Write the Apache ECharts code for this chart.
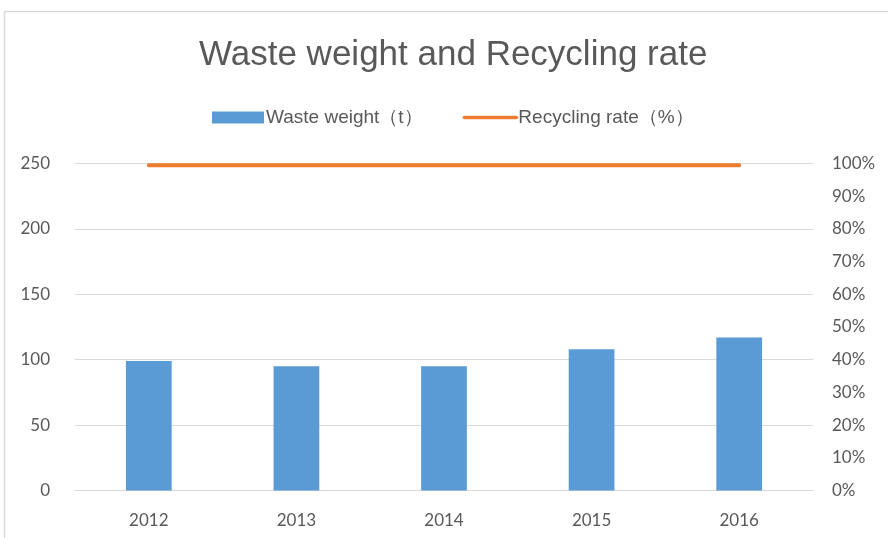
<!DOCTYPE html>
<html>
<head>
<meta charset="utf-8">
<script src="https://cdn.jsdelivr.net/npm/echarts@6/dist/echarts.min.js"></script>
<style>
  html, body { margin: 0; padding: 0; background: #fff; }
  #chart { width: 888px; height: 538px; }
</style>
</head>
<body>
<div id="chart"></div>
<script>
// data
const years = ['2012', '2013', '2014', '2015', '2016'];
const wasteWeight = [99, 95, 95, 108, 117];
const recyclingRate = [99.5, 99.5, 99.5, 99.5, 99.5];

const chart = echarts.init(document.getElementById('chart'));
const labelFont = 'Lato, "Noto Sans", sans-serif';

chart.setOption({
  backgroundColor: '#fff',
  animation: false,
  graphic: [{
    type: 'rect',
    shape: { x: 4.5, y: 11.5, width: 900, height: 600 },
    style: { fill: 'none', stroke: '#d9d9d9', lineWidth: 1.5 },
    silent: true
  }],
  title: {
    text: 'Waste weight and Recycling rate',
    left: 194,
    top: 33,
    textStyle: { fontFamily: '"Liberation Sans", Arial, sans-serif', fontSize: 35, fontWeight: 'normal', color: '#595959' }
  },
  legend: {
    top: 103,
    left: 207,
    itemGap: 40,
    itemWidth: 52,
    itemHeight: 12,
    textStyle: { fontFamily: '"Liberation Sans", Arial, sans-serif', fontSize: 19, color: '#595959', padding: [0, 0, 0, -3] },
    data: [
      { name: 'Waste weight（t）', icon: 'rect' },
      { name: 'Recycling rate（%）', itemStyle: { opacity: 0 }, lineStyle: { width: 3.5 } }
    ]
  },
  grid: { left: 75, right: 75, top: 163.5, bottom: 47.5 },
  xAxis: {
    type: 'category',
    data: years,
    axisLine: { lineStyle: { color: '#d9d9d9', width: 1 } },
    axisTick: { show: false },
    axisLabel: { color: '#595959', fontSize: 17, fontFamily: labelFont, margin: 22 }
  },
  yAxis: [
    {
      type: 'value',
      min: 0, max: 250, interval: 50,
      axisLine: { show: false },
      axisTick: { show: false },
      splitLine: { lineStyle: { color: '#d9d9d9' } },
      axisLabel: { color: '#595959', fontSize: 17, fontFamily: labelFont, margin: 25 }
    },
    {
      type: 'value',
      min: 0, max: 100, interval: 10,
      position: 'right',
      axisLine: { show: false },
      axisTick: { show: false },
      splitLine: { show: false },
      axisLabel: {
        color: '#595959', fontSize: 17, fontFamily: labelFont, margin: 19,
        formatter: '{value}%'
      }
    }
  ],
  series: [
    {
      name: 'Waste weight（t）',
      type: 'bar',
      data: wasteWeight,
      barWidth: '31%',
      itemStyle: { color: '#5b9bd5' }
    },
    {
      name: 'Recycling rate（%）',
      type: 'line',
      yAxisIndex: 1,
      data: recyclingRate,
      symbol: 'none',
      lineStyle: { color: '#ed7d31', width: 4, cap: 'round' },
      itemStyle: { color: '#ed7d31' }
    }
  ]
});
</script>
</body>
</html>
